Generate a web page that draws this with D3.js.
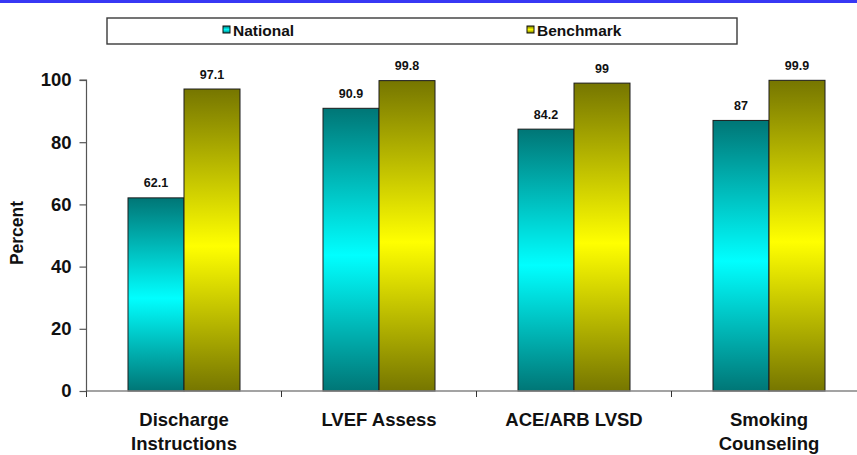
<!DOCTYPE html>
<html>
<head>
<meta charset="utf-8">
<script src="https://cdn.jsdelivr.net/npm/d3@7"></script>
<style>
  html, body { margin: 0; padding: 0; background: #fff; }
  svg { display: block; font-family: "Liberation Sans", Arial, Helvetica, sans-serif; }
</style>
</head>
<body>
<svg id="chart" width="857" height="455"></svg>
<script>
// Quality measures, national rate vs. benchmark (percent)
const categories = ["Discharge\nInstructions", "LVEF Assess", "ACE/ARB LVSD", "Smoking\nCounseling"];
const seriesNames = ["National", "Benchmark"];
const nationalValues = [62.1, 90.9, 84.2, 87];
const benchmarkValues = [97.1, 99.8, 99, 99.9];
const yTicks = [0, 20, 40, 60, 80, 100];
const yLabel = "Percent";

const seriesValues = [nationalValues, benchmarkValues];
const gradientColors = [
  { edge: "#007676", mid: "#00ffff" },
  { edge: "#767600", mid: "#ffff00" }
];

const svg = d3.select("#chart");
const W = 857, H = 455;

// Band across the top edge
svg.append("rect").attr("x", 0).attr("y", 0).attr("width", W).attr("height", 3).attr("fill", "#3838f4");

// Vertical gradients for the bars
const defs = svg.append("defs");
gradientColors.forEach((c, i) => {
  const g = defs.append("linearGradient")
    .attr("id", "grad" + i)
    .attr("x1", 0).attr("y1", 0).attr("x2", 0).attr("y2", 1);
  g.append("stop").attr("offset", "0%").attr("stop-color", c.edge);
  g.append("stop").attr("offset", "52%").attr("stop-color", c.mid);
  g.append("stop").attr("offset", "100%").attr("stop-color", c.edge);
});

const plot = { left: 86.5, right: 866.5, top: 80, bottom: 391 };

const x0 = d3.scaleBand().domain(categories).range([plot.left, plot.right]).paddingInner(0).paddingOuter(0);
const barW = 56;
const outerPad = (x0.bandwidth() - 2 * barW) / 2 / barW;
const x1 = d3.scaleBand().domain(seriesNames).range([0, x0.bandwidth()]).paddingInner(0).paddingOuter(outerPad);
const y = d3.scaleLinear().domain([0, 100]).range([plot.bottom, plot.top]);

// Bars
const groups = svg.append("g").selectAll("g")
  .data(categories)
  .join("g")
  .attr("transform", d => `translate(${x0(d)},0)`);

groups.selectAll("rect")
  .data((d, ci) => seriesNames.map((s, si) => ({ s, si, v: seriesValues[si][ci] })))
  .join("rect")
  .attr("x", d => x1(d.s))
  .attr("y", d => y(d.v))
  .attr("width", x1.bandwidth())
  .attr("height", d => y(0) - y(d.v))
  .attr("fill", d => `url(#grad${d.si})`)
  .attr("stroke", "#1c1c1c")
  .attr("stroke-width", 1);

// Value labels
groups.selectAll("text.val")
  .data((d, ci) => seriesNames.map((s, si) => ({ s, si, v: seriesValues[si][ci] })))
  .join("text")
  .attr("class", "val")
  .attr("x", d => x1(d.s) + x1.bandwidth() / 2)
  .attr("y", d => y(d.v) - 10.5)
  .attr("text-anchor", "middle")
  .attr("font-size", "12.5px")
  .attr("font-weight", "bold")
  .attr("fill", "#111")
  .text(d => d.v);

// X axis
const xAxis = svg.append("g");
xAxis.append("line")
  .attr("x1", plot.left).attr("x2", plot.right)
  .attr("y1", plot.bottom).attr("y2", plot.bottom)
  .attr("stroke", "#858585").attr("stroke-width", 1.5);
xAxis.selectAll("line.tick")
  .data(categories)
  .join("line")
  .attr("class", "tick")
  .attr("x1", d => x0(d)).attr("x2", d => x0(d))
  .attr("y1", plot.bottom).attr("y2", plot.bottom + 6)
  .attr("stroke", "#333").attr("stroke-width", 1);

const catLabels = xAxis.selectAll("text.cat")
  .data(categories)
  .join("text")
  .attr("class", "cat")
  .attr("text-anchor", "middle")
  .attr("font-size", "18.5px")
  .attr("font-weight", "bold")
  .attr("fill", "#111");
catLabels.each(function (d) {
  const t = d3.select(this);
  const cx = x0(d) + x0.bandwidth() / 2;
  d.split("\n").forEach((line, i) => {
    t.append("tspan").attr("x", cx).attr("y", 425.5 + i * 24).text(line);
  });
});

// Y axis
const yAxis = svg.append("g").attr("transform", `translate(${plot.left},0)`)
  .call(d3.axisLeft(y).tickValues(yTicks).tickSize(7).tickPadding(8).tickFormat(d3.format("d")));
yAxis.select(".domain").attr("stroke", "#555").attr("stroke-width", 1.2).attr("d", `M-7,${plot.top}H0V${plot.bottom}`);
yAxis.selectAll(".tick line").attr("stroke", "#555").attr("stroke-width", 1.2);
yAxis.selectAll(".tick text")
  .attr("font-size", "18.5px")
  .attr("font-weight", "bold")
  .attr("fill", "#111")
  .attr("font-family", "'Liberation Sans', Arial, sans-serif");

svg.append("text")
  .attr("transform", `translate(23,233) rotate(-90)`)
  .attr("text-anchor", "middle")
  .attr("font-size", "17.5px")
  .attr("font-weight", "bold")
  .attr("fill", "#111")
  .text(yLabel);

// Legend
const legend = svg.append("g");
legend.append("rect")
  .attr("x", 107).attr("y", 18).attr("width", 630).attr("height", 26)
  .attr("fill", "#fff").attr("stroke", "#3a3a3a").attr("stroke-width", 1.4);
const legendX = [223, 527];
seriesNames.forEach((s, i) => {
  legend.append("rect")
    .attr("x", legendX[i]).attr("y", 26).attr("width", 7).attr("height", 7)
    .attr("fill", `url(#grad${i})`).attr("stroke", "#111").attr("stroke-width", 1);
  legend.append("text")
    .attr("x", legendX[i] + 10).attr("y", 35.5)
    .attr("font-size", "15.5px").attr("font-weight", "bold").attr("fill", "#111")
    .text(s);
});
</script>
</body>
</html>
